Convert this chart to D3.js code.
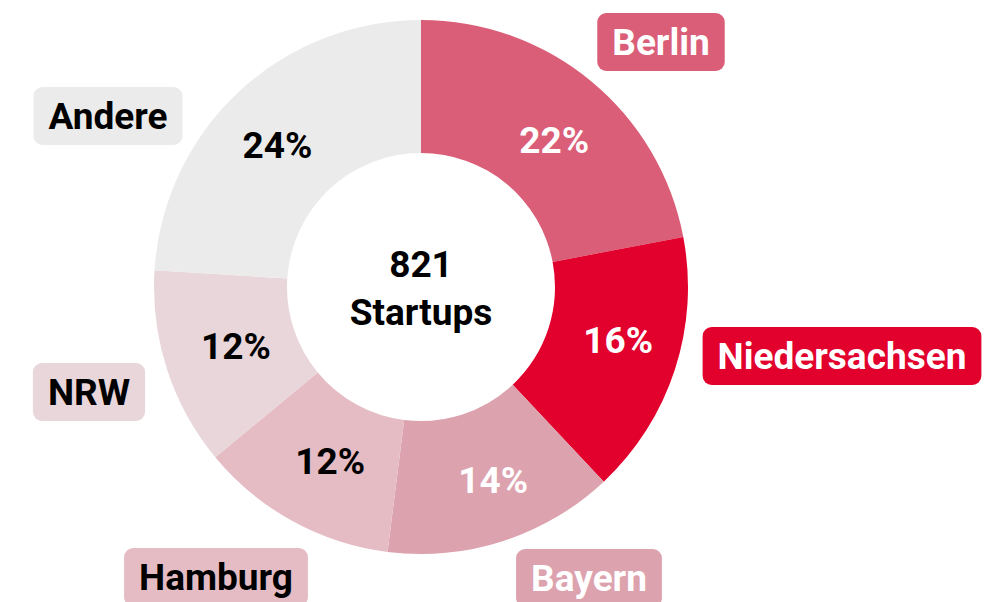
<!DOCTYPE html>
<html><head><meta charset="utf-8">
<script src="https://cdn.jsdelivr.net/npm/d3@7"></script>
<style>html,body{margin:0;padding:0;background:#fff;}svg{display:block;font-family:Roboto,sans-serif;font-weight:700;}</style>
</head><body>
<svg id="chart" width="1007" height="602"></svg>
<script>
const categories = ["Berlin","Niedersachsen","Bayern","Hamburg","NRW","Andere"];
const shares = [22,16,14,12,12,24];
const colors = ["#da5e77","#e2002d","#dca2ae","#e5bcc4","#e8d6da","#ebebeb"];
const textColors = ["#fff","#fff","#fff","#000","#000","#000"];
const totalLabel = ["821","Startups"];
// label layout (pixel nudges relative to computed positions)
const badgeOffsets = [[240,-245],[421,69],[168,291],[-205,290],[-332,105],[-313,-171]];
const pctNudges = [[5,8],[6,-9],[10,2],[6,-2],[6,-3],[-6,4]];

const W=1007,H=602, cx=421, cy=287, rOuter=267, rInner=134;
const FS=37;
const svg=d3.select("#chart");
const g=svg.append("g").attr("transform",`translate(${cx},${cy})`);
const data=categories.map((c,i)=>({cat:c,val:shares[i],i}));
const pie=d3.pie().value(d=>d.val).sort(null);
const arc=d3.arc().innerRadius(rInner).outerRadius(rOuter);
const arcs=pie(data);
g.selectAll("path.slice").data(arcs).join("path").attr("class","slice")
 .attr("d",arc).attr("fill",d=>colors[d.data.i]);
const labelArc=d3.arc().innerRadius(201).outerRadius(201);
g.selectAll("text.pct").data(arcs).join("text").attr("class","pct")
 .attr("transform",d=>{const c=labelArc.centroid(d);const n=pctNudges[d.data.i];return `translate(${c[0]+n[0]},${c[1]+n[1]})`;})
 .attr("text-anchor","middle").attr("dy","0.36em")
 .attr("font-size",FS).attr("fill",d=>textColors[d.data.i])
 .text(d=>d.data.val+"%");
g.append("text").attr("text-anchor","middle").attr("font-size",FS).attr("fill","#000")
 .selectAll("tspan").data(totalLabel).join("tspan").attr("x",0)
 .attr("y",(d,i)=>i===0?-10:38).text(d=>d);
// badges
const badges=g.selectAll("g.badge").data(data).join("g").attr("class","badge")
 .attr("transform",d=>`translate(${badgeOffsets[d.i][0]},${badgeOffsets[d.i][1]})`);
badges.each(function(d){
  const bg=d3.select(this);
  const rect=bg.append("rect");
  const t=bg.append("text").attr("text-anchor","middle").attr("dy","0.36em")
    .attr("font-size",FS).attr("fill",textColors[d.i]).text(d.cat);
  const w=t.node().getComputedTextLength();
  const pw=w+30, ph=58;
  rect.attr("x",-pw/2).attr("y",-ph/2).attr("width",pw).attr("height",ph)
    .attr("rx",9).attr("fill",colors[d.i]);
});
</script>
</body></html>
